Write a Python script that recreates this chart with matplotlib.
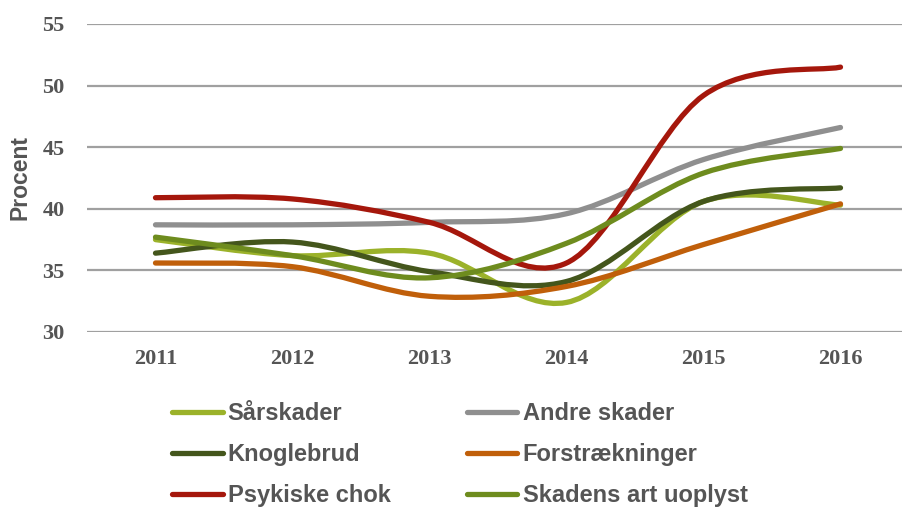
import matplotlib
matplotlib.use("Agg")
import matplotlib.pyplot as plt
from matplotlib.path import Path
from matplotlib.patches import PathPatch
from matplotlib.lines import Line2D

years = [2011, 2012, 2013, 2014, 2015, 2016]
saarskader = [37.5, 36.2, 36.4, 32.4, 40.6, 40.3]
andre_skader = [38.7, 38.7, 38.9, 39.6, 44.0, 46.6]
knoglebrud = [36.4, 37.3, 34.9, 34.1, 40.6, 41.7]
forstraekninger = [35.6, 35.3, 32.9, 33.7, 37.1, 40.4]
psykiske_chok = [40.9, 40.8, 38.9, 35.6, 49.2, 51.5]
uoplyst = [37.7, 36.2, 34.4, 37.2, 42.9, 44.9]

series = [
    ("Sårskader", saarskader, "#9bb22a"),
    ("Andre skader", andre_skader, "#8f8f8f"),
    ("Knoglebrud", knoglebrud, "#44561c"),
    ("Forstrækninger", forstraekninger, "#c05f0a"),
    ("Psykiske chok", psykiske_chok, "#a5170c"),
    ("Skadens art uoplyst", uoplyst, "#6e8c1e"),
]

fig = plt.figure(figsize=(9.03, 5.09), dpi=100)
ax = fig.add_axes([87/903, 1-332/509, (909-87)/903, (332-24)/509])

def smooth_path(xs, ys):
    n = len(xs)
    verts = [(xs[0], ys[0])]
    codes = [Path.MOVETO]
    for i in range(n-1):
        x0, y0 = (xs[i-1], ys[i-1]) if i > 0 else (xs[i], ys[i])
        x1, y1 = xs[i], ys[i]
        x2, y2 = xs[i+1], ys[i+1]
        x3, y3 = (xs[i+2], ys[i+2]) if i+2 < n else (xs[i+1], ys[i+1])
        c1 = (x1 + (x2-x0)/6, y1 + (y2-y0)/6)
        c2 = (x2 - (x3-x1)/6, y2 - (y3-y1)/6)
        verts += [c1, c2, (x2, y2)]
        codes += [Path.CURVE4]*3
    return Path(verts, codes)

handles = []
for name, vals, col in series:
    p = PathPatch(smooth_path(years, vals), facecolor="none", edgecolor=col,
                  lw=3.8, capstyle="round", joinstyle="round", zorder=3)
    ax.add_patch(p)
    handles.append(Line2D([0], [0], color=col, lw=3.8, solid_capstyle="round"))

ax.set_xlim(2010.5, 2016.5)
ax.set_ylim(30, 55)
ax.set_yticks([30, 35, 40, 45, 50, 55])
ax.set_xticks(years)
ax.set_xticklabels([str(y) for y in years])
ax.grid(axis="y", color="#a0a0a0", lw=1.6)
ax.set_axisbelow(True)
for s in ax.spines.values():
    s.set_visible(False)
ax.tick_params(length=0, colors="#555555", pad=12)
ax.tick_params(axis="y", pad=16)
for lbl in ax.get_xticklabels() + ax.get_yticklabels():
    lbl.set_fontfamily("Liberation Serif")
    lbl.set_fontweight("bold")
    lbl.set_fontsize(16)
ax.set_ylabel("Procent", fontsize=16.5, fontweight="bold", color="#555555",
              family="Liberation Sans", labelpad=8)

order = [0, 2, 4, 1, 3, 5]
leg = fig.legend([handles[i] for i in order], [series[i][0] for i in order],
                 ncol=2, loc="upper left", bbox_to_anchor=(172.5/903, 1-402/509),
                 frameon=False, borderpad=0, borderaxespad=0,
                 handlelength=2.12, handletextpad=0.22,
                 columnspacing=3.25, labelspacing=0.77,
                 prop={"family": "Liberation Sans", "weight": "bold", "size": 17})
for t in leg.get_texts():
    t.set_color("#555555")

fig.savefig("out.png", dpi=100)
